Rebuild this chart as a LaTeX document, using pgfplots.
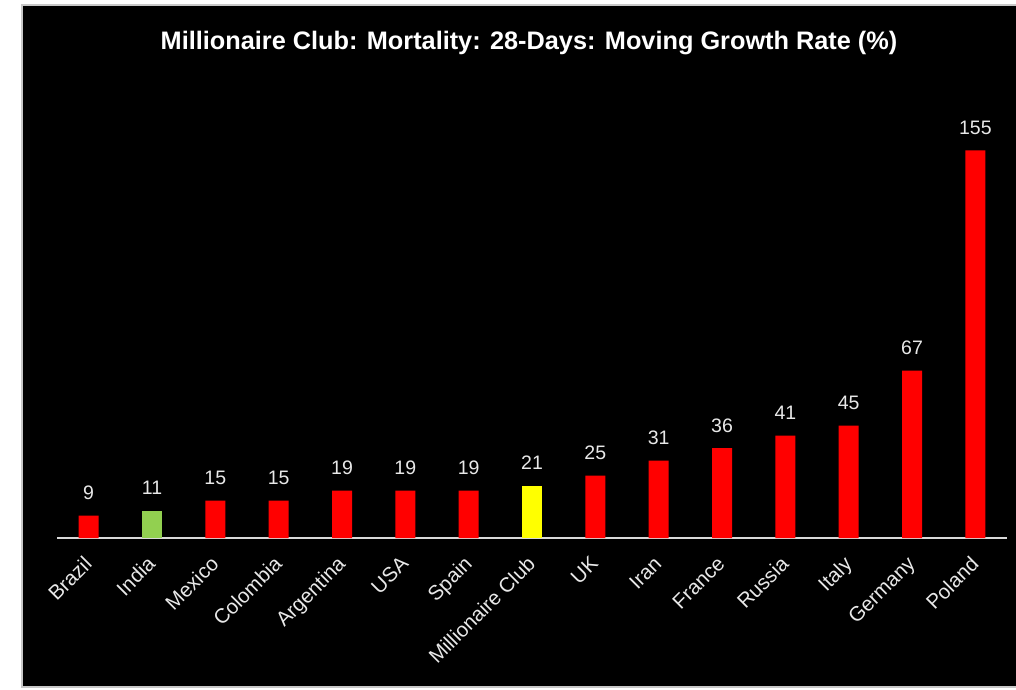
\documentclass[border=0pt]{standalone}
\usepackage{pgfplots}
\pgfplotsset{compat=1.18}
\usepackage{fontspec}
\setmainfont{Liberation Sans}
\definecolor{barred}{HTML}{FF0000}
\definecolor{bargreen}{HTML}{92D050}
\definecolor{baryellow}{HTML}{FFFF00}
\definecolor{axgray}{HTML}{D9D9D9}
\definecolor{txt}{HTML}{E8E8E8}
\definecolor{frame}{HTML}{C8C8C8}
\begin{document}
\begin{tikzpicture}
\useasboundingbox (0pt,0pt) rectangle (1016pt,689pt);
\fill[white] (0pt,0pt) rectangle (1016pt,689pt);
\draw[fill=black, draw=frame, line width=2pt] (22pt,2pt) rectangle (1025pt,684pt);
\node[text=white, font=\bfseries\fontsize{25.3}{30}\selectfont] at (529pt,646pt) {Millionaire Club: Mortality: 28-Days: Moving Growth Rate (\%)};
\begin{axis}[
  at={(57pt,151pt)}, anchor=south west,
  scale only axis, width=950pt, height=425pt,
  xmin=-0.5, xmax=14.5, ymin=0, ymax=170,
  axis x line*=bottom, axis y line=none,
  x axis line style={axgray, line width=2pt},
  ybar, bar width=20pt, bar shift=0pt,
  xtick={0,...,14},
  xticklabels={Brazil,India,Mexico,Colombia,Argentina,USA,Spain,Millionaire Club,UK,Iran,France,Russia,Italy,Germany,Poland},
  major tick length=0pt,
  xticklabel style={xshift=-6pt, yshift=-14pt, rotate=45, anchor=north east, font=\fontsize{20.5}{24}\selectfont, text=txt, inner sep=2pt},
  /pgf/number format/assume math mode=true,
  /pgf/number format/.cd, fixed, precision=0, /pgfplots/.cd,
  nodes near coords,
  nodes near coords style={font=\fontsize{19.5}{22}\selectfont, text=txt, anchor=base, inner sep=0pt, yshift=16pt},
  clip=false,
]
\addplot[fill=barred, draw=none] coordinates {(0,9) (2,15) (3,15) (4,19) (5,19) (6,19) (8,25) (9,31) (10,36) (11,41) (12,45) (13,67) (14,155)};
\addplot[fill=bargreen, draw=none] coordinates {(1,11)};
\addplot[fill=baryellow, draw=none] coordinates {(7,21)};
\end{axis}
\end{tikzpicture}
\end{document}
